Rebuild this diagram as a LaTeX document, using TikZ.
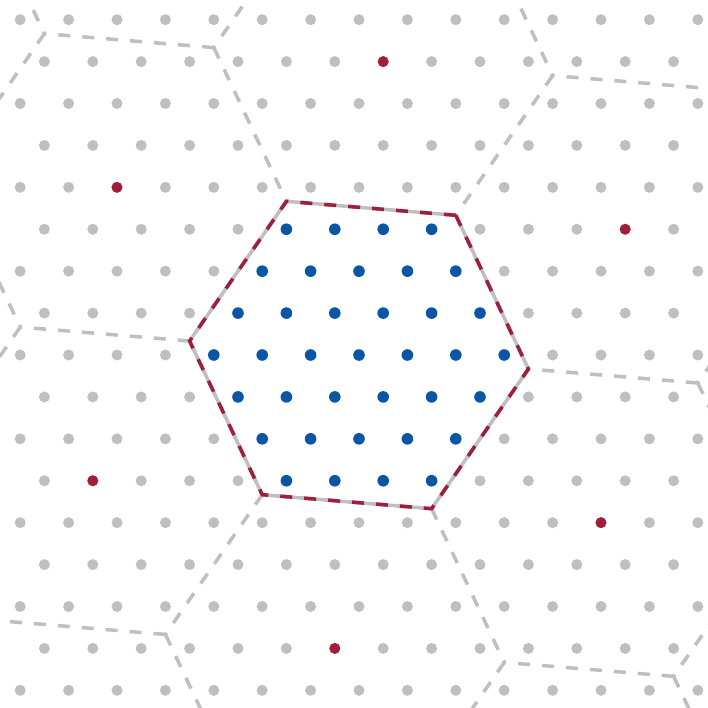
\documentclass[tikz,border=0pt]{standalone}
\usepackage{tikz}
\usepackage{xcolor}

\definecolor{sitegray}{RGB}{190,190,195}
\definecolor{siteblue}{RGB}{10,86,166}
\definecolor{sitered}{RGB}{162,30,56}

\begin{document}
\begin{tikzpicture}[x=48.4pt,y=48.4pt,
    cellline/.style={sitegray,line width=3.5pt,dash pattern=on 12pt off 12pt},
    site/.style={fill=sitegray}]
    \useasboundingbox (-359pt,-352pt) rectangle (349pt,355pt);
    \clip (-359pt,-352pt) rectangle (349pt,355pt);
    \def\R{3.5119}
    % neighbouring supercells, three edges each
    \foreach \i in {-3,...,3}
      \foreach \j in {-3,...,3}
        \foreach \k in {0,1,2}
          \draw[cellline,shift={({(\i)*0.5-(\j)*5},{(\i)*6.0622+(\j)*3.4641})}]
            (55.28+60*\k:\R) -- (115.28+60*\k:\R);
    % central supercell
    \draw[sitegray,line width=3.5pt] (55.28:\R)
      \foreach \k in {1,...,5} { -- (55.28+60*\k:\R) } -- cycle;
    \draw[sitered,line width=3.5pt,dash pattern=on 12pt off 12pt] (55.28:\R)
      \foreach \k in {1,...,5} { -- (55.28+60*\k:\R) } -- cycle;
    % lattice
    \foreach \n in {-8,-6,...,8}
      \foreach \x in {-7,...,7}
        \fill[site] (\x,\n*0.86603) circle (5.5pt);
    \foreach \n in {-7,-5,...,7}
      \foreach \x in {-6.5,-5.5,...,6.5}
        \fill[site] (\x,\n*0.86603) circle (5.5pt);
    % sites inside the supercell
    \foreach \n in {-3,...,3}
      \foreach \m in {-6,...,6} {
        \pgfmathparse{abs(2*\m+\n)+abs(\n)<=6 ? 1 : 0}
        \ifnum\pgfmathresult=1
          \fill[siteblue] (\m+\n*0.5,\n*0.86603) circle (5.8pt);
        \fi
      }
    % superlattice sites
    \foreach \p in {(0.5,6.0622),(-5,3.4641),(-5.5,-2.5981),(-0.5,-6.0622),(5,-3.4641),(5.5,2.5981)}
      \fill[sitered] \p circle (5.5pt);
  \end{tikzpicture}
\end{document}
